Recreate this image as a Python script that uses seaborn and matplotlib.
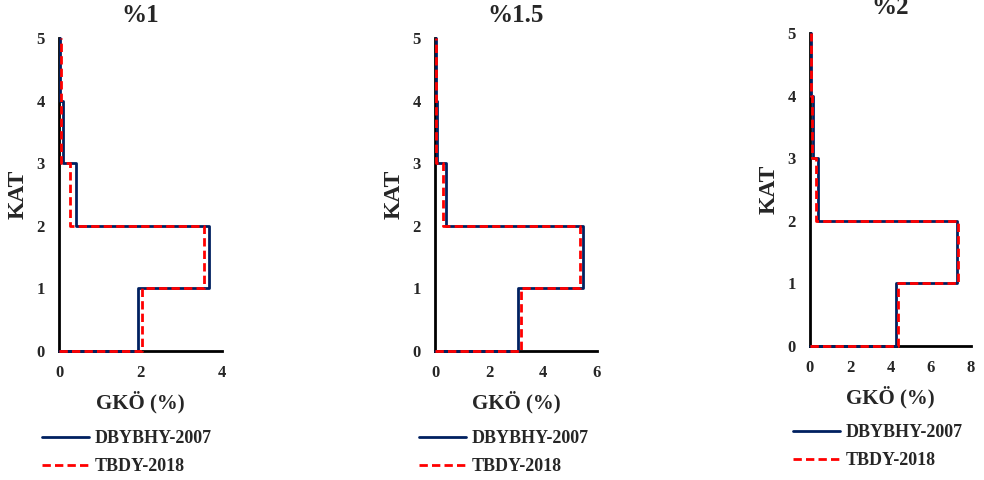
import numpy as np
import pandas as pd
import seaborn as sns
import matplotlib.pyplot as plt
from matplotlib.lines import Line2D

# ---- data ----
kat = [1, 2, 3, 4, 5]
titles = ["%1", "%1.5", "%2"]
xmax = [4, 6, 8]
dbybhy_1 = [1.94, 3.68, 0.42, 0.11, 0.03]
tbdy_1 = [2.04, 3.57, 0.27, 0.05, 0.04]
dbybhy_15 = [3.07, 5.48, 0.42, 0.07, 0.04]
tbdy_15 = [3.19, 5.38, 0.28, 0.05, 0.03]
dbybhy_2 = [4.26, 7.31, 0.41, 0.13, 0.07]
tbdy_2 = [4.39, 7.36, 0.31, 0.10, 0.05]
series_names = ["DBYBHY-2007", "TBDY-2018"]

sns.set_theme(style="white")
plt.rcParams['font.family'] = ['Liberation Serif', 'DejaVu Serif']
plt.rcParams['font.weight'] = 'bold'

colors = {"DBYBHY-2007": "#002060", "TBDY-2018": "#FF0000"}
dashes = {"DBYBHY-2007": "", "TBDY-2018": (3, 1.5)}


def step_frame(values, label):
    xs, ys = [0.0], [0.0]
    for k, v in zip(kat, values):
        xs += [v, v]
        ys += [k - 1, k]
    return pd.DataFrame({"x": xs, "y": ys, "series": label})


panels = [(dbybhy_1, tbdy_1), (dbybhy_15, tbdy_15), (dbybhy_2, tbdy_2)]
W, H = 984, 480
rects = [(59, 38, 222, 351), (435, 38, 597, 351), (810, 33, 971, 346)]
title_y = [16, 16, 8]
leg_pos = [(42, 430), (419, 430), (793, 424)]

fig = plt.figure(figsize=(9.84, 4.8), dpi=100)

for i, ((d, t), (l, tp, r, b)) in enumerate(zip(panels, rects)):
    ax = fig.add_axes([l / W, (H - b) / H, (r - l) / W, (b - tp) / H])
    df = pd.concat([step_frame(d, series_names[0]), step_frame(t, series_names[1])],
                   ignore_index=True)
    sns.lineplot(data=df, x="x", y="y", hue="series", style="series", sort=False,
                 estimator=None, units="series", palette=colors, dashes=dashes,
                 linewidth=2, ax=ax, legend=False)
    for ln in ax.get_lines():
        ln.set_clip_on(False)
        ln.set_zorder(3)
    ax.set_xlim(0, xmax[i])
    ax.set_ylim(0, 5)
    ax.set_xticks(np.arange(0, xmax[i] + 1, 2))
    ax.set_yticks(range(0, 6))
    for s in ["top", "right"]:
        ax.spines[s].set_visible(False)
    for s in ["left", "bottom"]:
        ax.spines[s].set_color("black")
        ax.spines[s].set_linewidth(2)
        ax.spines[s].set_zorder(1)
    ax.tick_params(axis="both", length=0, labelsize=12)
    ax.tick_params(axis="y", pad=10)
    ax.tick_params(axis="x", pad=10)
    for lab in ax.get_xticklabels() + ax.get_yticklabels():
        lab.set_fontweight("bold")
    ax.set_xlabel("GKÖ (%)", fontsize=15, fontweight="bold", labelpad=7)
    ax.set_ylabel("KAT", fontsize=17, fontweight="bold", labelpad=6)
    fig.text((l + r) / 2 / W, 1 - title_y[i] / H, titles[i], ha="center", va="center",
             fontsize=18, fontweight="bold")
    handles = [Line2D([], [], color=colors[n], lw=2,
                      linestyle="-" if n == series_names[0] else (0, (3, 1.5)))
               for n in series_names]
    lx, ly = leg_pos[i]
    fig.legend(handles, series_names, loc="upper left",
               bbox_to_anchor=(lx / W, 1 - ly / H), frameon=False, borderpad=0,
               borderaxespad=0, handlelength=2.6, handletextpad=0.3,
               labelspacing=0.6,
               prop={"family": "Liberation Serif", "weight": "bold", "size": 13})

fig.savefig("out.png", dpi=100)
